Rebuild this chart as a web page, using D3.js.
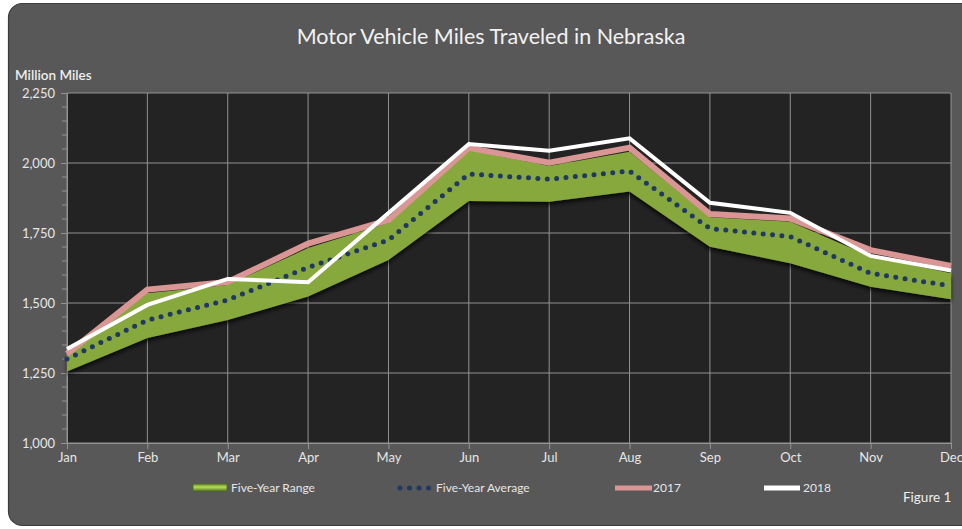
<!DOCTYPE html>
<html><head><meta charset="utf-8">
<script src="https://cdn.jsdelivr.net/npm/d3@7"></script>
<style>
html,body{margin:0;padding:0;background:#fff;}
svg{display:block;}
text{font-family:Lato,"Open Sans",sans-serif;}
</style></head>
<body>
<svg id="chart" width="962" height="529"></svg>
<script>
const months = ["Jan","Feb","Mar","Apr","May","Jun","Jul","Aug","Sep","Oct","Nov","Dec"];
const rangeLow  = [1255,1375,1439,1523,1654,1864,1862,1898,1701,1642,1558,1513];
const rangeHigh = [1316,1535,1564,1696,1786,2046,1989,2040,1806,1790,1666,1606];
const fiveYearAvg = [1300,1439,1511,1627,1725,1961,1942,1971,1766,1737,1606,1561];
const y2017 = [1318,1548,1575,1712,1796,2054,2001,2055,1818,1802,1689,1632];
const y2018 = [1336,1493,1586,1574,1821,2068,2044,2088,1858,1822,1668,1616];
const yTicks = [1000,1250,1500,1750,2000,2250];

const svg = d3.select("#chart");
const defs = svg.append("defs");
const sh = defs.append("filter").attr("id","shadow").attr("x","-5%").attr("y","-10%").attr("width","110%").attr("height","130%");
sh.append("feDropShadow").attr("dx",0).attr("dy",3).attr("stdDeviation",2).attr("flood-color","#000").attr("flood-opacity",0.75);
const lg = defs.append("linearGradient").attr("id","legGreen").attr("x1",0).attr("y1",0).attr("x2",0).attr("y2",1);
lg.append("stop").attr("offset","0%").attr("stop-color","#6f8f2a");
lg.append("stop").attr("offset","45%").attr("stop-color","#b5dc5a");
lg.append("stop").attr("offset","100%").attr("stop-color","#5f7d22");

// outer frame
svg.append("rect").attr("x",8.5).attr("y",3.5).attr("width",975).attr("height",522)
  .attr("rx",14).attr("fill","#585858").attr("stroke","#3c3c3c").attr("stroke-width",1.2);

const L = 67, R = 951, T = 93, B = 443;
const x = d3.scalePoint().domain(months).range([L, R]);
const y = d3.scaleLinear().domain([1000,2250]).range([B, T]);

// plot background
svg.append("rect").attr("x",L).attr("y",T).attr("width",R-L).attr("height",B-T).attr("fill","#232323");

// gridlines
const g = svg.append("g");
g.selectAll(".hg").data(yTicks).join("line")
  .attr("x1",L).attr("x2",R).attr("y1",d=>y(d)).attr("y2",d=>y(d))
  .attr("stroke","#939393").attr("stroke-width",1);
g.selectAll(".vg").data(months).join("line")
  .attr("x1",d=>x(d)).attr("x2",d=>x(d)).attr("y1",T).attr("y2",B)
  .attr("stroke","#939393").attr("stroke-width",1);

// y axis
const yAxis = d3.axisLeft(y).tickValues(yTicks).tickSize(6).tickPadding(6).tickFormat(d3.format(","));
const ya = svg.append("g").attr("transform",`translate(${L},0)`).call(yAxis);
const minor = d3.range(1050,2250,50).filter(v=>v%250!==0);
ya.selectAll(".minor").data(minor).join("line").attr("class","minor")
  .attr("x1",-5).attr("x2",0).attr("y1",d=>y(d)).attr("y2",d=>y(d)).attr("stroke","#939393");
// x axis
const xAxis = d3.axisBottom(x).tickSize(6).tickPadding(4);
const xa = svg.append("g").attr("transform",`translate(0,${B})`).call(xAxis);
[ya,xa].forEach(a=>{
  a.select(".domain").attr("stroke","#939393");
  a.selectAll(".tick line").attr("stroke","#939393");
  a.selectAll(".tick text").attr("fill","#e6e6e6").attr("font-size",13);
});

// range area
const idx = d3.range(months.length);
const area = d3.area().x(i=>x(months[i])).y0(i=>y(rangeLow[i])).y1(i=>y(rangeHigh[i]));
svg.append("path").attr("d",area(idx)).attr("fill","#86a83c").attr("filter","url(#shadow)");

const line = arr => d3.line().x(i=>x(months[i])).y(i=>y(arr[i]))(idx);
svg.append("path").attr("d",line(y2017)).attr("fill","none").attr("stroke","#d99694").attr("stroke-width",6).attr("stroke-linejoin","miter");
svg.append("path").attr("d",line(fiveYearAvg)).attr("fill","none").attr("stroke","#1f3864")
  .attr("stroke-width",5).attr("stroke-linecap","round").attr("stroke-dasharray","0 9.4");
svg.append("path").attr("d",line(y2018)).attr("fill","none").attr("stroke","#ffffff").attr("stroke-width",4).attr("stroke-linejoin","miter");

// title & labels
svg.append("text").attr("x",491).attr("y",44).attr("text-anchor","middle").attr("fill","#f2f2f2")
  .attr("font-size",21.5).text("Motor Vehicle Miles Traveled in Nebraska");
svg.append("text").attr("x",15).attr("y",80).attr("fill","#eeeeee").attr("font-size",13.5).attr("font-weight",600)
  .text("Million Miles");

// legend
const leg = svg.append("g");
leg.append("rect").attr("x",193).attr("y",484).attr("width",34).attr("height",7).attr("fill","url(#legGreen)").attr("stroke","#4f6a1a").attr("stroke-width",0.8);
leg.append("text").attr("x",231).attr("y",492).attr("fill","#e6e6e6").attr("font-size",12).text("Five-Year Range");
leg.append("line").attr("x1",400).attr("x2",430).attr("y1",488).attr("y2",488).attr("stroke","#1f3864")
  .attr("stroke-width",5).attr("stroke-linecap","round").attr("stroke-dasharray","0 9.5");
leg.append("text").attr("x",436).attr("y",492).attr("fill","#e6e6e6").attr("font-size",12).text("Five-Year Average");
leg.append("line").attr("x1",615).attr("x2",652).attr("y1",488).attr("y2",488).attr("stroke","#d99694").attr("stroke-width",5);
leg.append("text").attr("x",653).attr("y",492).attr("fill","#e6e6e6").attr("font-size",12).text("2017");
leg.append("line").attr("x1",764).attr("x2",800).attr("y1",488).attr("y2",488).attr("stroke","#ffffff").attr("stroke-width",5);
leg.append("text").attr("x",803).attr("y",492).attr("fill","#e6e6e6").attr("font-size",12).text("2018");
svg.append("text").attr("x",903).attr("y",502).attr("fill","#eeeeee").attr("font-size",13.5).text("Figure 1");
</script>
</body></html>
